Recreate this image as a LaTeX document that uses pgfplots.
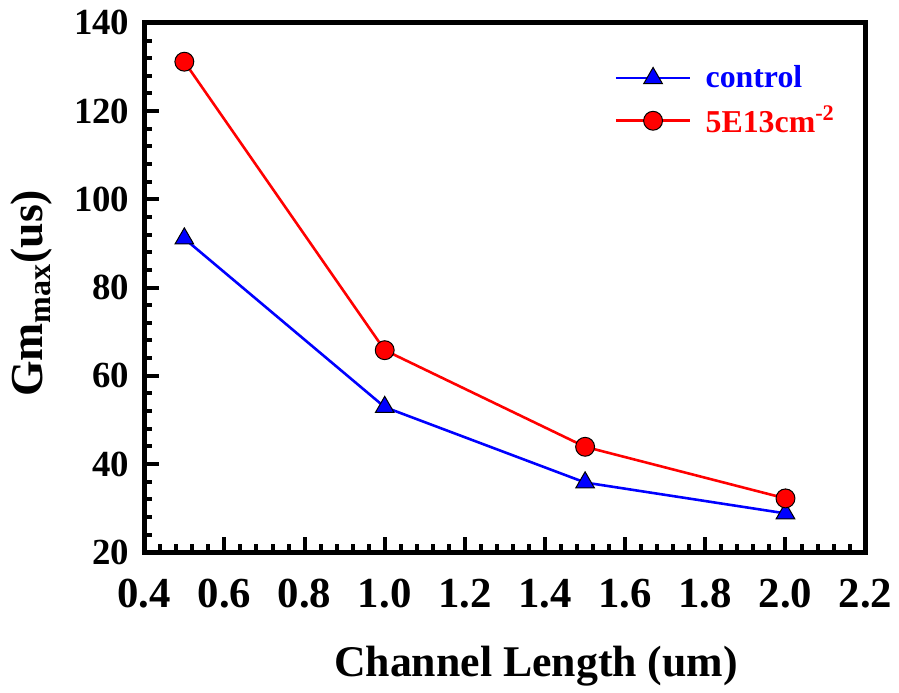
\documentclass[border=0pt]{standalone}
\usepackage{pgfplots}
\pgfplotsset{compat=1.18}
\usepackage{fontspec}
\setmainfont{Liberation Serif}
\definecolor{cblue}{RGB}{0,0,255}
\definecolor{cred}{RGB}{255,0,0}
\begin{document}
\begin{tikzpicture}
\begin{axis}[
  scale only axis,
  width=362.5pt, height=266pt,
  xmin=0.4, xmax=2.2, ymin=20, ymax=140,
  xtick={0.4,0.6,...,2.2}, ytick={20,40,...,140},
  minor tick num=4,
  axis line style={line width=2.5pt},
  every tick/.style={black, line width=2pt},
  major tick length=7.5pt, minor tick length=4pt,
  tick align=inside,
  xtick pos=bottom, ytick pos=left,
  /pgf/number format/assume math mode=true,
  xticklabel style={/pgf/number format/fixed, /pgf/number format/fixed zerofill, /pgf/number format/precision=1, yshift=-10pt, font=\fontsize{21.5}{21.5}\selectfont\bfseries},
  yticklabel style={/pgf/number format/fixed, /pgf/number format/precision=0, xshift=-4pt, font=\fontsize{18.5}{18.5}\selectfont\bfseries},
  xlabel={Channel Length (um)},
  ylabel={Gm\textsubscript{max}(us)},
  xlabel style={font=\fontsize{22}{22}\selectfont\bfseries, at={(axis description cs:0.543,0)}, anchor=base, yshift=-62.5pt},
  ylabel style={font=\fontsize{23}{23}\selectfont\bfseries, at={(axis description cs:-0.1407,0.489)}, anchor=base},
  legend style={draw=none, fill=none, at={(axis description cs:0.643,0.935)}, anchor=north west,
    font=\fontsize{16}{16}\selectfont\bfseries, row sep=3.5pt},
  legend cell align=left,
  legend image code/.code={\draw[mark repeat=2,mark phase=2] plot coordinates {(0pt,0pt) (18.75pt,0pt) (37.5pt,0pt)};},
  clip=false,
]
\addplot[cblue, line width=1.3pt, mark=triangle*, mark size=5.4pt, mark options={fill=cblue, draw=black, line width=0.5pt}]
  coordinates {(0.5,91.1) (1.0,52.9) (1.5,35.8) (2.0,28.8)};
\addlegendentry{\hspace*{5pt}\textcolor{cblue}{control}}
\addplot[cred, line width=1.3pt, mark=*, mark size=4.75pt, mark options={fill=cred, draw=black, line width=0.5pt}]
  coordinates {(0.5,131.2) (1.0,65.8) (1.5,43.9) (2.0,32.2)};
\addlegendentry{\hspace*{5pt}\textcolor{cred}{5E13cm\textsuperscript{-2}}}
\end{axis}
\path[use as bounding box] (current axis.south west) ++(-72.5pt,-70.5pt) rectangle ++(449.5pt,348pt);
\end{tikzpicture}
\end{document}
